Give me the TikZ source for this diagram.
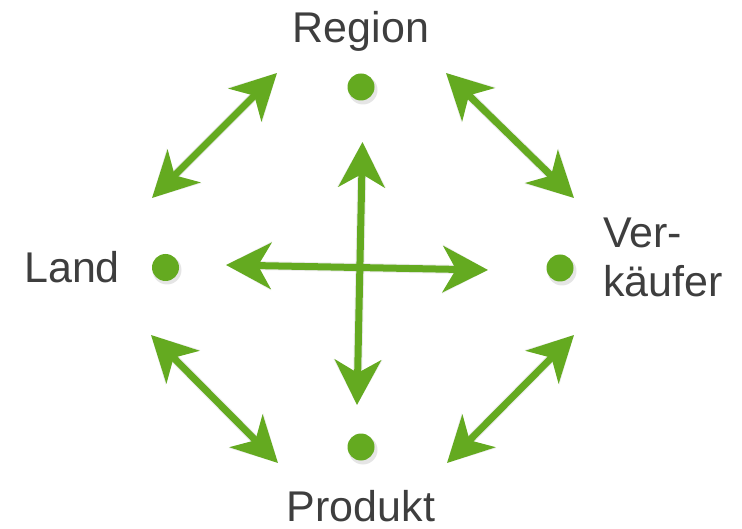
\documentclass[tikz,border=0pt]{standalone}
\usepackage{fontspec}
\setmainfont{Liberation Sans}
\usetikzlibrary{arrows.meta}
\definecolor{lgreen}{RGB}{100,170,32}
\definecolor{ltext}{RGB}{62,62,62}
\begin{document}
\begin{tikzpicture}[x=1pt,y=-1pt,
  dot/.style={circle,fill=lgreen,minimum size=27pt,inner sep=0pt},
  lbl/.style={text=ltext,font=\fontsize{43}{49}\selectfont,inner sep=0pt},
  dbl/.style={draw=lgreen,line width=7pt,
    {Stealth[length=45pt,width=46pt,inset=13pt]}-{Stealth[length=45pt,width=46pt,inset=13pt]}},
  shad/.style={draw=black,opacity=0.08,line width=9pt,
    {Stealth[length=45pt,width=48pt,inset=13pt]}-{Stealth[length=45pt,width=48pt,inset=13pt]}}]
\useasboundingbox (0,0) rectangle (742,529);
% dots
\fill[black,opacity=0.1] (363,90) circle (14.5pt);
\fill[black,opacity=0.1] (167,270) circle (14.5pt);
\fill[black,opacity=0.1] (562,271) circle (14.5pt);
\fill[black,opacity=0.1] (363,450) circle (14.5pt);
\node[dot] (dR) at (361,87) {};
\node[dot] (dL) at (165.5,267.5) {};
\node[dot] (dV) at (560,268) {};
\node[dot] (dP) at (361,447) {};
% labels
\node[lbl,anchor=base] (tR) at (361,43) {Region};
\node[lbl,anchor=base west] (tL) at (24,283) {Land};
\node[lbl,anchor=base west,align=left] (tV) at (603,297) {Ver-\\käufer};
\node[lbl,anchor=base,text depth=0pt] (tP) at (361,521) {Produkt};
% arrow end coordinates
\coordinate (a1) at (277,73);  \coordinate (a2) at (152,198);
\coordinate (b1) at (446,73);  \coordinate (b2) at (574,198);
\coordinate (c1) at (151,335); \coordinate (c2) at (278,463);
\coordinate (d1) at (574,335); \coordinate (d2) at (447,463);
\coordinate (v1) at (362.5,142); \coordinate (v2) at (357,405);
\coordinate (h1) at (226,265); \coordinate (h2) at (488,270);
% shadows
\begin{scope}[shift={(2,3)}]
\draw[shad] (a1) -- (a2);
\draw[shad] (b1) -- (b2);
\draw[shad] (c1) -- (c2);
\draw[shad] (d1) -- (d2);
\draw[shad] (v1) -- (v2);
\draw[shad] (h1) -- (h2);
\end{scope}
% arrows
\draw[dbl] (a1) -- (a2);
\draw[dbl] (b1) -- (b2);
\draw[dbl] (c1) -- (c2);
\draw[dbl] (d1) -- (d2);
\draw[dbl] (v1) -- (v2);
\draw[dbl] (h1) -- (h2);
\end{tikzpicture}
\end{document}
